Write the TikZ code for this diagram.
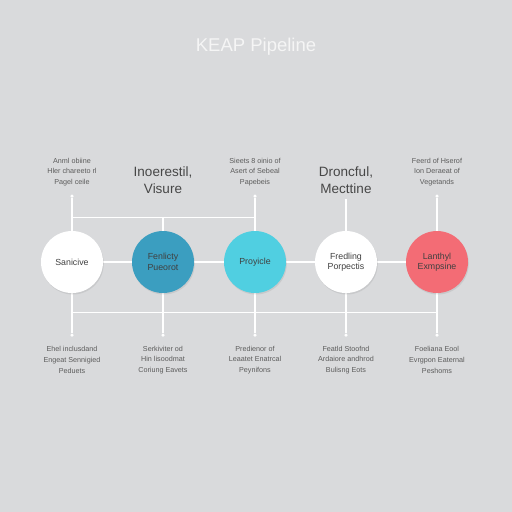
\documentclass[tikz,border=0pt]{standalone}
\usepackage{fontspec}
\setmainfont{Liberation Sans}
\usetikzlibrary{shadows}
\pgfdeclarelayer{background}
\pgfsetlayers{background,main}
\definecolor{paper}{HTML}{D9DADC}
\definecolor{inkgray}{HTML}{5C5C5C}
\definecolor{tealstage}{HTML}{3B9EC0}
\definecolor{cyanstage}{HTML}{50CFE1}
\definecolor{coralstage}{HTML}{F36C75}
\tikzstyle{stage}=[circle,minimum size=62pt,inner sep=0pt,align=center,font=\fontsize{8.8}{10.5}\selectfont,text=black!75,
    drop shadow={shadow xshift=0.8pt,shadow yshift=-1.5pt,opacity=0.18}]
\tikzstyle{note}=[align=center,font=\fontsize{7.2}{10.8}\selectfont,text=inkgray]
\tikzstyle{big note}=[align=center,font=\fontsize{13.5}{17}\selectfont,text=black!72]
\tikzstyle{wire}=[draw,white,line width=1.3pt]
\tikzstyle{tip}=[circle,fill=white,inner sep=0pt,minimum size=3.5pt]

\begin{document}
\begin{tikzpicture}[x=1pt,y=-1pt]
    \useasboundingbox (0,0) rectangle (512,512);

    % Title
    \node[font=\fontsize{18.5}{20}\selectfont,text=white!96!black] (title) at (256,47) {KEAP Pipeline};

    % The five stages
    \foreach \pos/\name/\col/\txt in {{(72,262)/c1/white/Sanicive}, {(163,262)/c2/tealstage/Fenlicty\\Pueorot},
        {(255,262)/c3/cyanstage/Proyicle}, {(346,262)/c4/white/Fredling\\Porpectis}, {(437,262)/c5/coralstage/Lanthyl\\Exmpsine}}
        \node[stage,fill=\col] (\name) at \pos {\txt};

    % End points and junctions of the wires
    \foreach \x/\i in {72/1, 163/2, 255/3, 346/4, 437/5} {
        \coordinate (j\i) at (\x,217.5);
        \coordinate (b\i) at (\x,312.5);
        \node[tip] (d\i) at (\x,335) {};
    }
    \foreach \x/\i in {72/1, 255/3, 437/5}
        \node[tip] (t\i) at (\x,196) {};
    \coordinate (t4) at (346,199);

    % Paper and wires, behind the stages
    \begin{pgfonlayer}{background}
        \fill[paper] (0,0) rectangle (512,512);
        \foreach \source/\dest in {c1/c2, c2/c3, c3/c4, c4/c5, t1/c1, j1/j3, j2/c2, t3/c3, t4/c4, t5/c5, b1/b5}
            \path[wire] (\source) -- (\dest);
        \foreach \i in {1,...,5}
            \path[wire] (c\i) -- (d\i);
    \end{pgfonlayer}

    % Notes above
    \node[note] (n1) at (72,172) {Anml obiine\\Hler chareeto rl\\Pagel ceile};
    \node[big note] (n2) at (163,180) {Inoerestil,\\Visure};
    \node[note] (n3) at (255,172) {Sieets 8 oinio of\\Asert of Sebeal\\Papebeis};
    \node[big note] (n4) at (346,180) {Droncful,\\Mecttine};
    \node[note] (n5) at (437,172) {Feerd of Hserof\\Ion Deraeat of\\Vegetands};

    % Notes below
    \node[note] (m1) at (72,360) {Ehel inclusdand\\Engeat Sennigied\\Peduets};
    \node[note] (m2) at (163,360) {Serkiviter od\\Hin lisoodmat\\Coriung Eavets};
    \node[note] (m3) at (255,360) {Predienor of\\Leaatet Enatrcal\\Peynifons};
    \node[note] (m4) at (346,360) {Featld Stoofnd\\Ardaiore andhrod\\Bulisng Eots};
    \node[note] (m5) at (437,360) {Foeliana Eool\\Evrgpon Eaternal\\Peshoms};
\end{tikzpicture}
\end{document}
